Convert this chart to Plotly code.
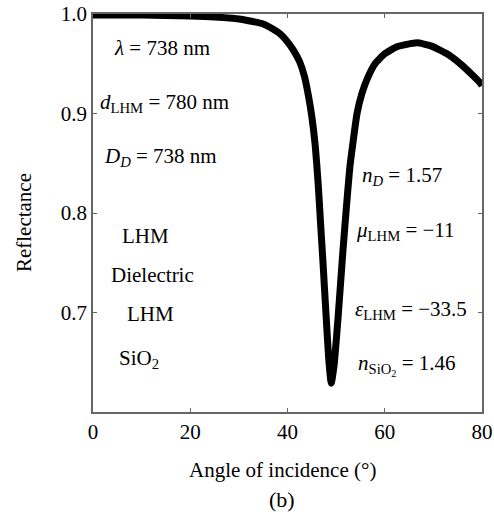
import plotly.graph_objects as go

angle = [0, 10, 20, 25, 30, 35, 37, 38.5, 40, 41.3, 42.5, 43.5, 44.3, 45.0, 45.7, 46.3, 46.8, 47.3, 47.9, 48.5, 49.0,
         49.6, 50.4, 51.4, 52.1, 52.8, 53.5, 54.3, 55.3, 56.5, 58.0, 60.0, 62.5, 66.6, 69.5, 72.8, 76.0, 79.6, 80]
refl = [0.999, 0.999, 0.998, 0.997, 0.995, 0.990, 0.985, 0.980, 0.972, 0.963, 0.952, 0.937, 0.918, 0.897, 0.868, 0.830, 0.790, 0.750, 0.700, 0.652, 0.629,
        0.648, 0.695, 0.762, 0.805, 0.845, 0.872, 0.900, 0.920, 0.936, 0.950, 0.960, 0.967, 0.971, 0.968, 0.960, 0.948, 0.931, 0.928]

xticks = [0, 20, 40, 60, 80]
yticks = [0.7, 0.8, 0.9, 1.0]

left_labels = ["<i>λ</i> = 738 nm", "<i>d</i><sub>LHM</sub> = 780 nm", "<i>D<sub>D</sub></i> = 738 nm",
               "LHM", "Dielectric", "LHM", "SiO<sub>2</sub>"]
left_x = [14.2, 14.8, 13.8, 10.7, 12.3, 11.9, 9.5]
left_y = [0.966, 0.911, 0.856, 0.777, 0.738, 0.698, 0.653]

right_labels = ["<i>n<sub>D</sub></i> = 1.57", "<i>μ</i><sub>LHM</sub> = −11", "<i>ε</i><sub>LHM</sub> = −33.5",
                "<i>n</i><sub>SiO<sub>2</sub></sub> = 1.46"]
right_x = [63.5, 64.3, 65.4, 64.5]
right_y = [0.837, 0.782, 0.703, 0.647]

font_family = "Liberation Serif"

fig = go.Figure()
fig.add_trace(go.Scatter(x=angle, y=refl, mode="lines",
                         line=dict(color="black", width=7, shape="spline", smoothing=0.5),
                         showlegend=False))

for t, x, y in zip(left_labels + right_labels, left_x + right_x, left_y + right_y):
    fig.add_annotation(x=x, y=y, text=t, showarrow=False, xref="x", yref="y",
                       xanchor="center", yanchor="middle",
                       font=dict(family=font_family, size=21, color="black"))

fig.add_annotation(x=-0.177, y=0.475, xref="paper", yref="paper", text="Reflectance", showarrow=False,
                   xanchor="center", yanchor="middle",
                   textangle=-90, font=dict(family=font_family, size=21, color="black"))
fig.add_annotation(x=0.488, y=-0.146, xref="paper", yref="paper", text="Angle of incidence (°)", showarrow=False,
                   xanchor="center", yanchor="middle",
                   font=dict(family=font_family, size=21, color="black"))
fig.add_annotation(x=0.486, y=-0.221, xref="paper", yref="paper", text="(b)", showarrow=False,
                   xanchor="center", yanchor="middle",
                   font=dict(family=font_family, size=22, color="black"))

axis_common = dict(showgrid=False, zeroline=False, showline=True, linecolor="#666", linewidth=1.5,
                   mirror="ticks", ticks="inside", ticklen=4, tickcolor="#666", automargin=False,
                   tickfont=dict(family=font_family, size=21, color="black"))

fig.update_xaxes(range=[0, 80], tickvals=xticks, ticktext=[str(v) for v in xticks], **axis_common)
fig.update_yaxes(range=[0.6, 1.0], tickvals=yticks, ticktext=["0.7", "0.8", "0.9", "1.0"], **axis_common)

fig.update_layout(width=494, height=519, margin=dict(l=93, r=12, t=14, b=107, autoexpand=False),
                  plot_bgcolor="white", paper_bgcolor="white")

fig.write_html("out.html")
